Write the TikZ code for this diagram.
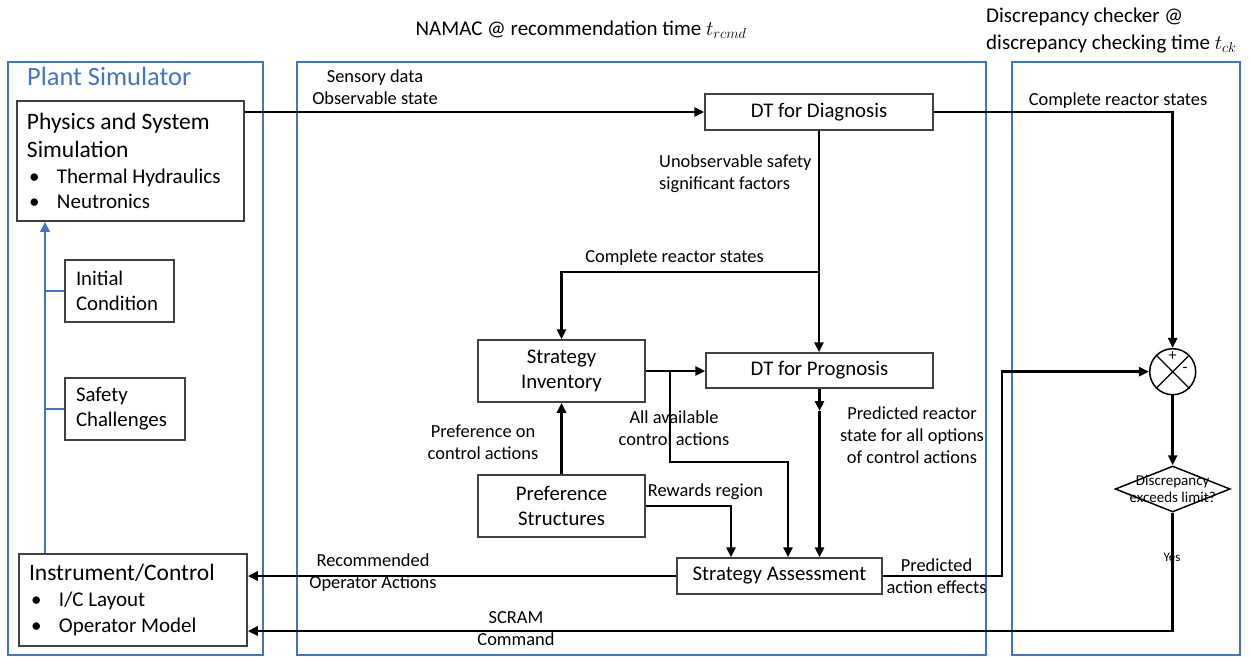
\documentclass[tikz,border=0pt]{standalone}
\usepackage{fontspec}
\setmainfont{Carlito}
\usetikzlibrary{arrows.meta,shapes.geometric}
\definecolor{psblue}{HTML}{4472C4}
\definecolor{edgegray}{HTML}{404040}
\newcommand\bitem[1]{\par\hspace*{2pt}\makebox[28pt][l]{\textbullet}#1}

\begin{document}
\begin{tikzpicture}[x=1pt,y=-1pt,
  frame/.style={draw=psblue, line width=2.8pt},
  nbox/.style={draw=edgegray, line width=1.5pt, inner sep=0pt, align=center,
    font=\fontsize{20.8}{25}\selectfont},
  lbox/.style={draw=edgegray, line width=1.5pt, inner ysep=0pt, inner xsep=11pt,
    align=left, font=\fontsize{20.8}{25}\selectfont},
  lbl/.style={font=\fontsize{18.4}{22}\selectfont, align=center, inner sep=0pt},
  ttl/.style={font=\fontsize{21}{27}\selectfont, inner sep=0pt},
  arr/.style={line width=2.8pt, -{Triangle[length=10pt,width=9pt]}},
  bluearr/.style={draw=psblue, line width=2.8pt, -{Triangle[length=10pt,width=9pt]}},
  blueline/.style={draw=psblue, line width=2.8pt}]

\useasboundingbox (0,0) rectangle (1250,656);

% containers
\draw[frame] (8,62) rectangle (263,655);
\draw[frame] (297,62) rectangle (986,655);
\draw[frame] (1012,62) rectangle (1240,655);

% titles
\node[font=\fontsize{26.4}{30}\selectfont, text=psblue, anchor=west, inner sep=0pt] (tplant) at (27,76) {Plant Simulator};
\node[ttl] (tnamac) at (581,30) {NAMAC @ recommendation time $t_{\scriptstyle rcmd}$};
\node[ttl, align=left, anchor=west] (tdisc) at (986,30.5) {Discrepancy checker @\\discrepancy checking time $t_{\scriptstyle ck}$};

% plant simulator
\node[nbox, align=left, minimum width=227pt, minimum height=120pt] (phys) at (130.5,161)
  {\begin{minipage}{207pt}\fontsize{23.5}{28}\selectfont Physics and System\par Simulation\par
   \fontsize{21}{25.5}\selectfont\bitem{Thermal Hydraulics}\bitem{Neutronics}\end{minipage}};
\node[lbox, text width=87pt, minimum height=62pt] (ic) at (119.5,291) {Initial\\Condition};
\node[lbox, text width=98pt, minimum height=62pt] (sc) at (125,409) {Safety\\Challenges};
\node[nbox, align=left, minimum width=228pt, minimum height=92pt] (instr) at (133,600)
  {\begin{minipage}{208pt}\fontsize{23.5}{26}\selectfont Instrument/Control\par
   \fontsize{21}{26}\selectfont\bitem{I/C Layout}\bitem{Operator Model}\end{minipage}};

% NAMAC
\node[nbox, minimum width=228pt, minimum height=36pt] (diag) at (819,112) {DT for Diagnosis};
\node[nbox, minimum width=167pt, minimum height=62pt] (inv) at (561.5,371) {Strategy\\Inventory};
\node[nbox, minimum width=227pt, minimum height=35pt] (prog) at (819.5,370.5) {DT for Prognosis};
\node[nbox, minimum width=167pt, minimum height=62pt] (pref) at (561.5,506) {Preference\\Structures};
\node[nbox, minimum width=205pt, minimum height=36pt] (assess) at (779.5,576) {Strategy Assessment};

% discrepancy checker
\node[draw=black, circle, line width=1.5pt, minimum size=46pt, inner sep=0pt] (cmp) at (1172.7,371.7) {};
\draw[line width=1.3pt] (cmp.north west) -- (cmp.south east) (cmp.north east) -- (cmp.south west);
\node[font=\fontsize{16}{16}\selectfont, inner sep=0pt] (plus) at (1172.5,356) {+};
\node[font=\fontsize{16}{16}\selectfont, inner sep=0pt] (minus) at (1185,370) {-};
\node[draw=black, diamond, line width=1.5pt, minimum width=115pt, minimum height=46pt, inner sep=0pt,
  label={[font=\fontsize{15}{17}\selectfont, align=center, inner sep=0pt]center:Discrepancy\\exceeds limit?}] (dia) at (1172.7,489) {};

% plant simulator inputs
\draw[bluearr] (instr.north -| 45,0) -- (phys.south -| 45,0);
\draw[blueline] (ic.west -| 45,0) -- (ic.west);
\draw[blueline] (sc.west -| 45,0) -- (sc.west);

% connectors
\draw[arr] (phys.east |- diag.west) -- (diag.west);
\draw[arr] (diag.east) -| (cmp.north);
\draw[arr] (diag.south) -- (diag.south |- prog.north);
\coordinate (brc) at (819,272);
\draw[arr] (brc) -| (inv.north);
\draw[arr] (inv.east) -- (inv.east -| prog.west);
\coordinate (bra) at (670,371);
\draw[arr] (bra) |- (788,462) -- (788,0 |- assess.north);
\coordinate (pmid) at (819.5,411);
\draw[arr] (prog.south) -- (pmid);
\draw[arr] (pmid) -- (pmid |- assess.north);
\draw[arr] (pref.north) -- (inv.south);
\draw[arr] (pref.east) -| (731,0 |- assess.north);
\draw[arr] (assess.west) -- (assess.west -| instr.east);
\draw[arr] (assess.east) -| (1002,0 |- cmp.west) -- (cmp.west);
\draw[arr] (cmp.south) -- (dia.north);
\draw[arr] (dia.south) |- (instr.east |- 0,631);

% connector labels
\node[lbl] (lsens) at (375,87) {Sensory data\\Observable state};
\node[lbl] (lcrs1) at (1118,101) {Complete reactor states};
\node[lbl, align=left, anchor=west] (lunobs) at (659,173.5) {Unobservable safety\\significant factors};
\node[lbl] (lcrs2) at (674.5,258) {Complete reactor states};
\node[lbl] (lall) at (674,428) {All available\\control actions};
\node[lbl] (lpred) at (912,435) {Predicted reactor\\state for all options\\of control actions};
\node[lbl] (lpref) at (483,442) {Preference on\\control actions};
\node[lbl] (lrew) at (705.5,492) {Rewards region};
\node[lbl] (lrec) at (373,573) {Recommended\\Operator Actions};
\node[lbl] (lpae) at (936.5,576) {Predicted\\action effects};
\node[lbl] (lscram) at (516,629) {SCRAM\\Command};
\node[font=\fontsize{13}{15}\selectfont, inner sep=0pt] (lyes) at (1172,557) {Yes};

\end{tikzpicture}
\end{document}
